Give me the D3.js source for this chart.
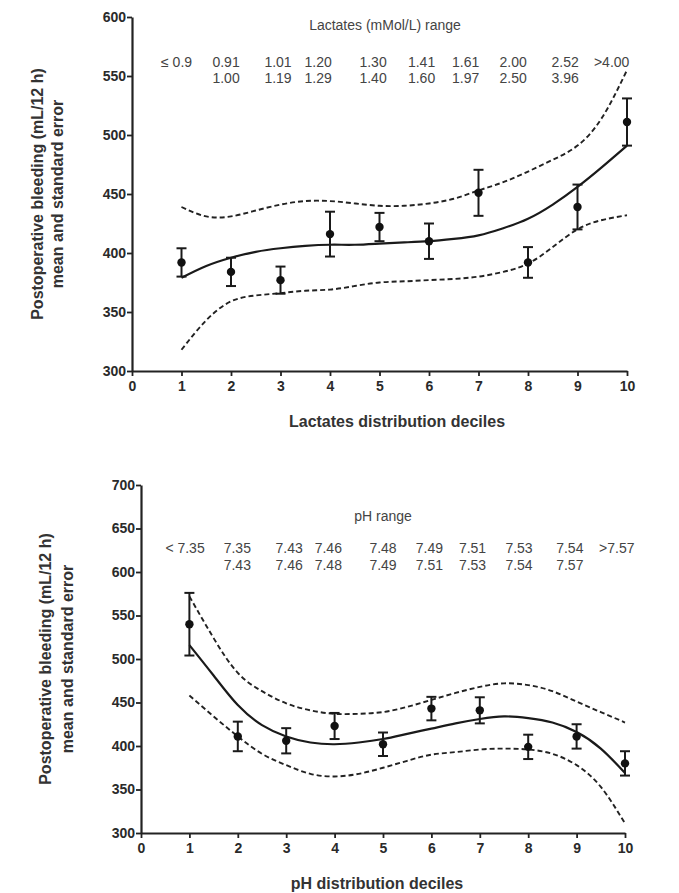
<!DOCTYPE html>
<html>
<head>
<meta charset="utf-8">
<script src="https://cdn.jsdelivr.net/npm/d3@7"></script>
<style>
  html, body { margin: 0; padding: 0; background: #fff; }
  svg { display: block; font-family: "Liberation Sans", Arial, sans-serif; }
</style>
</head>
<body>
<svg id="chart" width="679" height="893"></svg>
<script>
// ---------- DATA ----------
const deciles = [1, 2, 3, 4, 5, 6, 7, 8, 9, 10];
const curveX = [1, 1.5, 2, 2.5, 3, 3.5, 4, 4.5, 5, 5.5, 6, 6.5, 7, 7.5, 8, 8.5, 9, 9.5, 10];
const xTicks = [0, 1, 2, 3, 4, 5, 6, 7, 8, 9, 10];

// Lactates panel
const lacMean = [392, 384, 377, 416, 422, 410, 451, 392, 439, 511];
const lacSE = [12, 12, 11.5, 19, 12, 15, 19.5, 13, 19, 20];
const lacFit = [379, 389, 396, 401, 404, 406, 407, 407, 408, 409, 410, 412, 415, 421, 429, 441, 456, 473, 491];
const lacUpper = [439, 431, 431, 436, 441, 444, 444, 442, 440, 440, 442, 446, 453, 460, 469, 479, 491, 515, 555];
const lacLower = [318, 343, 359, 364, 366, 368, 369, 372, 375, 376, 377, 378, 380, 384, 391, 405, 420, 428, 432];
const lacRangeTop = ["\u2264 0.9", "0.91", "1.01", "1.20", "1.30", "1.41", "1.61", "2.00", "2.52", ">4.00"];
const lacRangeBottom = ["", "1.00", "1.19", "1.29", "1.40", "1.60", "1.97", "2.50", "3.96", ""];
const lacYTicks = [300, 350, 400, 450, 500, 550, 600];

// pH panel
const phMean = [540, 411, 406, 423, 402, 443, 441, 399, 411, 380];
const phSE = [36, 17, 14.5, 15, 13.5, 13.5, 15, 14, 14, 14];
const phFit = [516, 481, 447, 424, 411, 404, 402, 404, 408, 414, 420, 426, 431, 434, 432, 427, 416, 397, 369];
const phUpper = [572, 524, 484, 463, 449, 441, 437, 437, 439, 445, 453, 461, 468, 472, 470, 463, 451, 439, 427];
const phLower = [458, 434, 411, 391, 378, 368, 365, 368, 375, 383, 390, 393, 396, 397, 396, 391, 378, 353, 311];
const phRangeTop = ["< 7.35", "7.35", "7.43", "7.46", "7.48", "7.49", "7.51", "7.53", "7.54", ">7.57"];
const phRangeBottom = ["", "7.43", "7.46", "7.48", "7.49", "7.51", "7.53", "7.54", "7.57", ""];
const phYTicks = [300, 350, 400, 450, 500, 550, 600, 650, 700];

// ---------- LAYOUT ----------
const svg = d3.select("#chart");
svg.append("rect").attr("width", 679).attr("height", 893).attr("fill", "#fff");

function drawPanel(cfg) {
  const g = svg.append("g");
  const x = d3.scaleLinear().domain([0, 10]).range([cfg.x0, cfg.x1]);
  const y = d3.scaleLinear().domain(cfg.yDomain).range([cfg.yBottom, cfg.yTop]);

  const xAxis = d3.axisBottom(x).tickValues(xTicks).tickFormat(d3.format("d")).tickSize(5).tickPadding(5).tickSizeOuter(0);
  const yAxis = d3.axisLeft(y).tickValues(cfg.yTicks).tickFormat(d3.format("d")).tickSize(5).tickPadding(1).tickSizeOuter(0);

  const gx = g.append("g").attr("transform", `translate(0,${cfg.yBottom})`).call(xAxis);
  const gy = g.append("g").attr("transform", `translate(${cfg.x0},0)`).call(yAxis);
  [gx, gy].forEach(a => {
    a.selectAll("path").attr("stroke", "#222").attr("stroke-width", 2.2);
    a.selectAll("line").attr("stroke", "#222").attr("stroke-width", 1.8);
    a.selectAll("text").attr("fill", "#2a2a2a").attr("font-size", 14).attr("font-weight", "bold")
      .attr("font-family", "'Liberation Sans', Arial, sans-serif");
  });

  const line = d3.line().x((d, i) => x(curveX[i])).y(d => y(d)).curve(d3.curveNatural);
  g.append("path").datum(cfg.upper).attr("d", line).attr("fill", "none")
    .attr("stroke", "#222").attr("stroke-width", 1.9).attr("stroke-dasharray", "5,3");
  g.append("path").datum(cfg.lower).attr("d", line).attr("fill", "none")
    .attr("stroke", "#222").attr("stroke-width", 1.9).attr("stroke-dasharray", "5,3");
  g.append("path").datum(cfg.fit).attr("d", line).attr("fill", "none")
    .attr("stroke", "#1a1a1a").attr("stroke-width", 2.2);

  const eb = g.append("g").attr("stroke", "#1a1a1a").attr("stroke-width", 2);
  deciles.forEach((d, i) => {
    const m = cfg.mean[i], s = cfg.se[i];
    const cx = x(d);
    eb.append("line").attr("x1", cx).attr("x2", cx).attr("y1", y(m - s)).attr("y2", y(m + s));
    eb.append("line").attr("x1", cx - 5).attr("x2", cx + 5).attr("y1", y(m + s)).attr("y2", y(m + s));
    eb.append("line").attr("x1", cx - 5).attr("x2", cx + 5).attr("y1", y(m - s)).attr("y2", y(m - s));
  });
  g.append("g").selectAll("circle").data(cfg.mean).join("circle")
    .attr("cx", (d, i) => x(deciles[i])).attr("cy", d => y(d)).attr("r", 4.2).attr("fill", "#111");

  g.append("text").attr("x", cfg.rangeTitleX).attr("y", cfg.rangeTitleY).attr("text-anchor", "middle")
    .attr("font-size", 14).attr("fill", "#444").text(cfg.rangeTitle);
  cfg.rangeTop.forEach((t, i) => {
    const px = x(cfg.labelPos[i]);
    g.append("text").attr("x", px).attr("y", cfg.row1Y).attr("text-anchor", "middle")
      .attr("font-size", 14).attr("fill", "#444").text(t);
    if (cfg.rangeBottom[i]) {
      g.append("text").attr("x", px).attr("y", cfg.row2Y).attr("text-anchor", "middle")
        .attr("font-size", 14).attr("fill", "#444").text(cfg.rangeBottom[i]);
    }
  });

  g.append("text").attr("x", cfg.xTitleX).attr("y", cfg.xTitleY).attr("text-anchor", "middle")
    .attr("font-size", 16).attr("font-weight", "bold").attr("fill", "#333").text(cfg.xTitle);
  const yc = (cfg.yTop + cfg.yBottom) / 2;
  g.append("text").attr("transform", `translate(${cfg.yTitleX1},${yc}) rotate(-90)`).attr("text-anchor", "middle")
    .attr("font-size", 16).attr("font-weight", "bold").attr("fill", "#333").text("Postoperative bleeding (mL/12 h)");
  g.append("text").attr("transform", `translate(${cfg.yTitleX2},${yc}) rotate(-90)`).attr("text-anchor", "middle")
    .attr("font-size", 16).attr("font-weight", "bold").attr("fill", "#333").text("mean and standard error");
}

drawPanel({
  x0: 132, x1: 627, yTop: 17, yBottom: 371, yDomain: [300, 600], yTicks: lacYTicks,
  mean: lacMean, se: lacSE, fit: lacFit, upper: lacUpper, lower: lacLower,
  rangeTitle: "Lactates (mMol/L) range", rangeTitleX: 385, rangeTitleY: 30,
  rangeTop: lacRangeTop, rangeBottom: lacRangeBottom,
  labelPos: [0.9, 1.9, 2.95, 3.76, 4.87, 5.85, 6.74, 7.7, 8.75, 9.69],
  row1Y: 67, row2Y: 83,
  xTitle: "Lactates distribution deciles", xTitleX: 397, xTitleY: 427,
  yTitleX1: 43, yTitleX2: 63
});

drawPanel({
  x0: 141, x1: 625, yTop: 485, yBottom: 833, yDomain: [300, 700], yTicks: phYTicks,
  mean: phMean, se: phSE, fit: phFit, upper: phUpper, lower: phLower,
  rangeTitle: "pH range", rangeTitleX: 383, rangeTitleY: 521,
  rangeTop: phRangeTop, rangeBottom: phRangeBottom,
  labelPos: [0.91, 1.99, 3.06, 3.87, 5.0, 5.96, 6.85, 7.81, 8.86, 9.83],
  row1Y: 553, row2Y: 570,
  xTitle: "pH distribution deciles", xTitleX: 377, xTitleY: 889,
  yTitleX1: 51, yTitleX2: 73
});
</script>
</body>
</html>
